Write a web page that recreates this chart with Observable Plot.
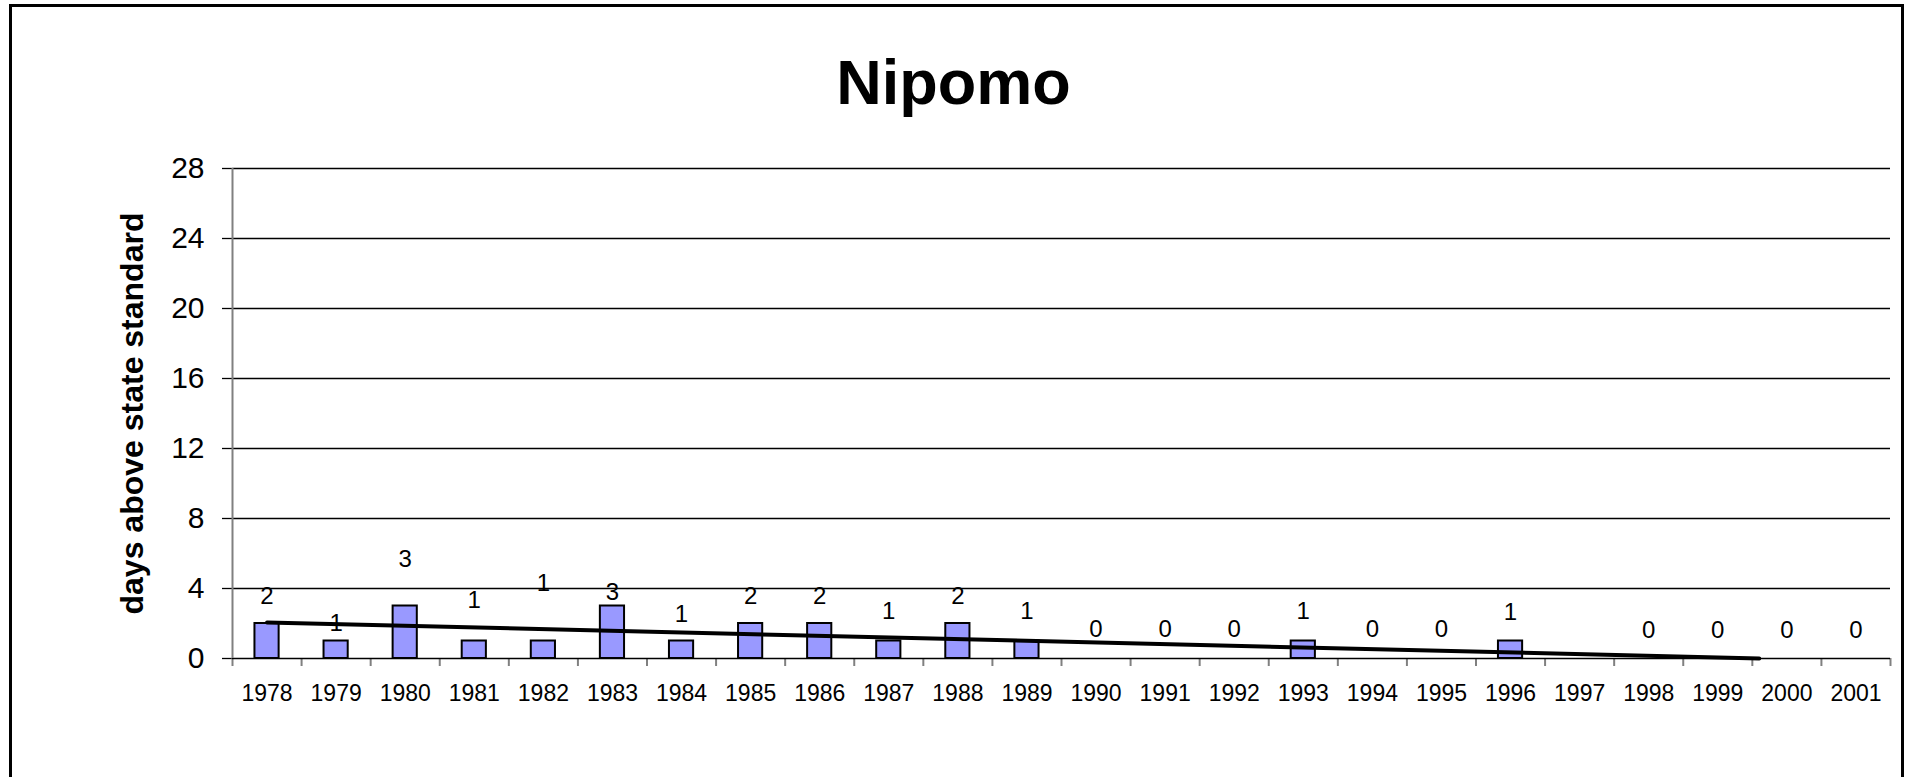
<!DOCTYPE html>
<html>
<head>
<meta charset="utf-8">
<script src="https://cdn.jsdelivr.net/npm/d3@7"></script>
<script src="https://cdn.jsdelivr.net/npm/@observablehq/plot@0.6"></script>
<style>
  html, body { margin: 0; padding: 0; background: #fff; overflow: hidden; }
  body { width: 1911px; height: 777px; position: relative; font-family: "Liberation Sans", Arial, sans-serif; }
  #frame { position: absolute; left: 9px; top: 4px; width: 1889px; height: 900px;
           border-top: 3px solid #000; border-left: 3px solid #000; border-right: 3px solid #000; pointer-events: none; }
  #title { height: 130px; box-sizing: border-box; padding-top: 51px; text-align: center;
           font-size: 63px; line-height: 63px; font-weight: bold; color: #000; padding-left: 0; }
  #title span { position: relative; left: -2px; }
  #chart svg { display: block; }
</style>
</head>
<body>
<div id="title"><span>Nipomo</span></div>
<div id="chart"></div>
<div id="frame"></div>
<script>
const years = [1978,1979,1980,1981,1982,1983,1984,1985,1986,1987,1988,1989,1990,1991,1992,1993,1994,1995,1996,1997,1998,1999,2000,2001];
const days  = [2,1,3,1,1,3,1,2,2,1,2,1,0,0,0,1,0,0,1,null,0,0,0,0];
// heights (in days) at which the data labels sit in the picture
const labelLevels = [3.53,2.0,5.68,3.30,4.27,3.76,2.51,3.53,3.53,2.68,3.53,2.68,1.66,1.66,1.66,2.68,1.66,1.66,2.62,null,1.60,1.60,1.60,1.60];
const yTicks = [0,4,8,12,16,20,24,28];
const trendYears = [1978, 1999.6];
const trendDays  = [2.06, 0];
const yTitle = "days above state standard";

const rows = years.map((year, i) => ({year, days: days[i], level: labelLevels[i]}));
const bars = rows.filter(d => d.days != null && d.days > 0);
const labels = rows.filter(d => d.days != null);
const trend = trendYears.map((year, i) => ({year, days: trendDays[i]}));
const xDomain = [years[0] - 0.5, years[years.length - 1] + 0.5];
const boundaries = years.map(y => y - 0.5).concat([xDomain[1]]);
const half = 0.175;

const chart = Plot.plot({
  width: 1911,
  height: 647,
  marginLeft: 232,
  marginRight: 21,
  marginTop: 38,
  marginBottom: 119,
  x: {type: "linear", domain: xDomain},
  y: {domain: [yTicks[0], yTicks[yTicks.length - 1]]},
  style: {fontFamily: "'Liberation Sans', Arial, sans-serif", fontSize: "23px", color: "#000", background: "#fff", overflow: "visible"},
  marks: [
    Plot.ruleY(yTicks.filter(t => t > 0), {stroke: "#000", strokeWidth: 1.3}),
    Plot.axisY({ticks: yTicks, tickSize: 10, tickPadding: 18, fontSize: 30, stroke: "#000", strokeWidth: 1.3, label: null}),
    Plot.axisX({ticks: boundaries, tickSize: 8, tickFormat: () => "", stroke: "#808080", strokeWidth: 2, label: null}),
    Plot.axisX({ticks: years, tickSize: 0, tickPadding: 26, tickFormat: d => String(d), fontSize: 23, label: null}),
    Plot.rectY(bars, {x1: d => d.year - half, x2: d => d.year + half, y: "days", fill: "#9999ff", stroke: "#000", strokeWidth: 2}),
    Plot.ruleY([0], {stroke: "#000", strokeWidth: 1.5}),
    Plot.ruleX([xDomain[0]], {stroke: "#808080", strokeWidth: 2}),
    Plot.line(trend, {x: "year", y: "days", stroke: "#000", strokeWidth: 4}),
    Plot.text(labels, {x: "year", y: "level", text: d => String(d.days), fontSize: 24, fill: "#000", lineAnchor: "middle"}),
    Plot.text([yTitle], {frameAnchor: "left", rotate: -90, dx: -100, textAnchor: "middle", lineAnchor: "middle", fontSize: 32, fontWeight: "bold", fill: "#000"})
  ]
});
document.getElementById("chart").appendChild(chart);
</script>
</body>
</html>
